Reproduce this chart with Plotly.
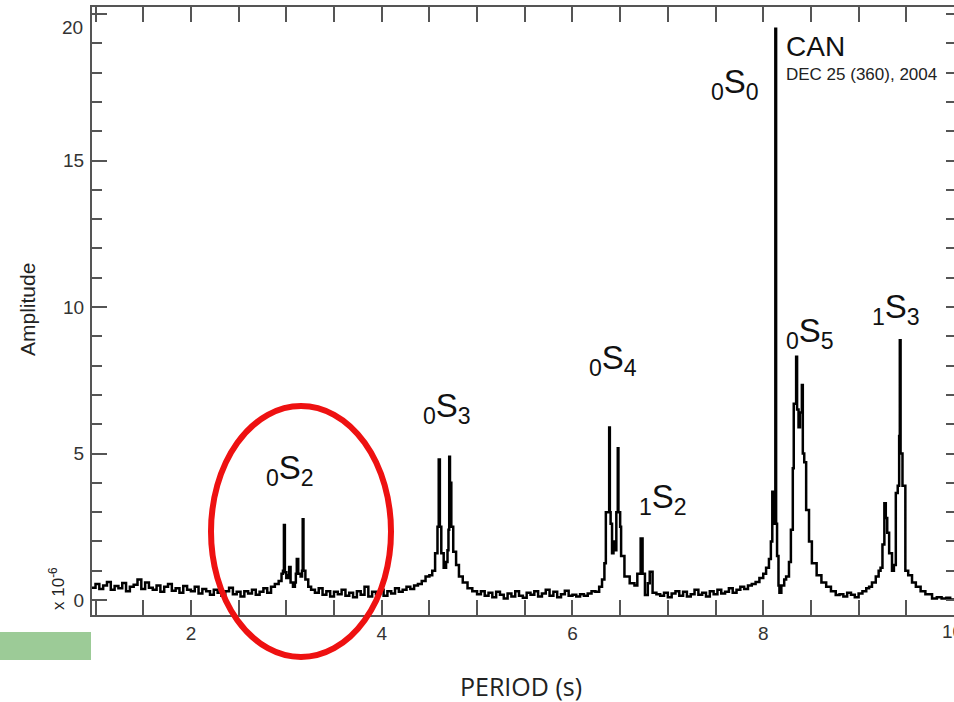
import plotly.graph_objects as go

# ---------------- data ----------------
period = [
    0.96, 1.00, 1.04, 1.08, 1.12, 1.16, 1.20, 1.24, 1.28, 1.32, 1.36, 1.40, 1.44, 1.48, 1.52, 1.56,
    1.60, 1.64, 1.68, 1.72, 1.76, 1.80, 1.84, 1.88, 1.92, 1.96, 2.00, 2.04, 2.08, 2.12, 2.16, 2.20,
    2.24, 2.28, 2.32, 2.36, 2.40, 2.44, 2.48, 2.52, 2.56, 2.60, 2.64, 2.68, 2.72, 2.76, 2.80, 2.84, 2.88,
    # 0S2
    2.92, 2.95, 2.965, 2.975, 2.985, 3.00, 3.02, 3.03, 3.045, 3.07, 3.09, 3.10, 3.11, 3.125, 3.15,
    3.165, 3.172, 3.18, 3.20, 3.23, 3.26,
    3.30, 3.34, 3.38, 3.42, 3.46, 3.50, 3.54, 3.58, 3.62, 3.66, 3.70, 3.74, 3.78, 3.82, 3.86, 3.90,
    3.94, 3.98, 4.02, 4.06, 4.10, 4.14, 4.18, 4.22, 4.26, 4.30, 4.34, 4.38, 4.42, 4.46,
    # 0S3
    4.50, 4.53, 4.56, 4.585, 4.598, 4.61, 4.625, 4.65, 4.675, 4.69, 4.700, 4.708, 4.716, 4.73, 4.75,
    4.78, 4.81, 4.85, 4.90, 4.95,
    5.00, 5.04, 5.08, 5.12, 5.16, 5.20, 5.24, 5.28, 5.32, 5.36, 5.40, 5.44, 5.48, 5.52, 5.56, 5.60,
    5.64, 5.68, 5.72, 5.76, 5.80, 5.84, 5.88, 5.92, 5.96, 6.00, 6.04, 6.08, 6.12, 6.16, 6.20, 6.24,
    # 0S4 and 1S2
    6.28, 6.31, 6.335, 6.35, 6.375, 6.385, 6.392, 6.40, 6.415, 6.43, 6.445, 6.46, 6.475, 6.482, 6.50,
    6.51, 6.545, 6.60, 6.65, 6.68, 6.715, 6.735, 6.76, 6.79, 6.81, 6.84, 6.88,
    6.92, 6.96, 7.00, 7.04, 7.08, 7.12, 7.16, 7.20, 7.24, 7.28, 7.32, 7.36, 7.40, 7.44, 7.48, 7.52,
    7.56, 7.60, 7.64, 7.68, 7.72, 7.76, 7.80, 7.84,
    # 0S0 and 0S5
    7.88, 7.92, 7.96, 8.00, 8.03, 8.06, 8.08, 8.095, 8.11, 8.12, 8.127, 8.135, 8.145, 8.16, 8.17,
    8.19, 8.22, 8.24, 8.27, 8.29, 8.31, 8.32, 8.345, 8.355, 8.37, 8.385, 8.405, 8.415, 8.43, 8.45,
    8.48, 8.51, 8.56, 8.61, 8.66, 8.71, 8.76,
    8.80, 8.84, 8.88, 8.92, 8.96, 9.00, 9.04, 9.08,
    # 1S3
    9.11, 9.14, 9.18, 9.21, 9.23, 9.25, 9.27, 9.285, 9.30, 9.32, 9.35, 9.37, 9.39, 9.41, 9.425,
    9.432, 9.44, 9.46, 9.48, 9.49, 9.52, 9.56, 9.60, 9.65, 9.70, 9.77, 9.82, 9.87, 9.92, 9.96, 10.0,
]

amplitude = [
    0.42, 0.55, 0.38, 0.50, 0.62, 0.35, 0.48, 0.40, 0.58, 0.30, 0.45, 0.52, 0.70, 0.38, 0.60, 0.42,
    0.35, 0.50, 0.28, 0.45, 0.55, 0.32, 0.40, 0.25, 0.48, 0.35, 0.30, 0.45, 0.22, 0.38, 0.30, 0.18,
    0.35, 0.25, 0.15, 0.30, 0.42, 0.20, 0.28, 0.12, 0.30, 0.22, 0.35, 0.18, 0.28, 0.40, 0.25, 0.45, 0.55,
    0.65, 0.90, 1.00, 2.56, 0.95, 0.75, 0.85, 1.13, 0.60, 0.45, 0.60, 0.90, 1.40, 0.90, 0.80,
    1.00, 2.76, 1.00, 0.70, 0.45, 0.35,
    0.25, 0.40, 0.18, 0.30, 0.12, 0.28, 0.20, 0.35, 0.15, 0.25, 0.10, 0.30, 0.18, 0.45, 0.12, 0.28,
    0.20, 0.35, 0.15, 0.30, 0.22, 0.40, 0.28, 0.35, 0.45, 0.38, 0.50, 0.55, 0.65, 0.80,
    0.85, 1.00, 1.60, 2.50, 4.80, 2.50, 1.60, 1.10, 1.30, 1.70, 2.40, 4.89, 4.00, 2.50, 1.65,
    1.20, 0.80, 0.60, 0.40, 0.30,
    0.20, 0.30, 0.15, 0.25, 0.10, 0.28, 0.18, 0.05, 0.22, 0.12, 0.30, 0.15, 0.08, 0.25, 0.18, 0.30,
    0.12, 0.22, 0.35, 0.15, 0.28, 0.10, 0.20, 0.32, 0.15, 0.18, 0.12, 0.20, 0.15, 0.22, 0.30, 0.28,
    0.45, 0.70, 1.26, 3.00, 3.00, 5.89, 3.00, 2.60, 1.60, 2.00, 1.70, 3.00, 5.18, 3.00, 2.50,
    1.50, 0.80, 0.57, 0.50, 0.90, 2.10, 0.90, 0.17, 0.57, 0.97, 0.25, 0.20,
    0.15, 0.25, 0.10, 0.22, 0.30, 0.15, 0.28, 0.12, 0.20, 0.35, 0.18, 0.25, 0.12, 0.30, 0.20, 0.35,
    0.22, 0.28, 0.40, 0.25, 0.35, 0.45, 0.38, 0.50,
    0.55, 0.62, 0.75, 0.90, 1.10, 1.40, 2.00, 3.70, 2.60, 3.00, 19.5, 2.60, 1.50, 0.50, 0.25,
    0.50, 0.70, 0.80, 1.30, 2.40, 4.50, 6.70, 8.30, 6.50, 5.90, 6.40, 7.34, 5.00, 4.70, 3.07,
    2.00, 1.26, 0.85, 0.60, 0.45, 0.30, 0.17,
    0.20, 0.12, 0.25, 0.18, 0.10, 0.22, 0.30, 0.40,
    0.45, 0.60, 0.80, 1.00, 1.10, 1.90, 3.30, 2.80, 2.30, 1.60, 1.00, 1.20, 3.65, 3.90, 5.60,
    8.87, 5.00, 3.90, 3.90, 1.00, 0.85, 0.60, 0.45, 0.30, 0.20, 0.05, 0.10, 0.05, 0.08, 0.02, 0.06,
]

mode_labels = ["<sub>0</sub>S<sub>2</sub>", "<sub>0</sub>S<sub>3</sub>", "<sub>0</sub>S<sub>4</sub>",
               "<sub>1</sub>S<sub>2</sub>", "<sub>0</sub>S<sub>0</sub>", "<sub>0</sub>S<sub>5</sub>",
               "<sub>1</sub>S<sub>3</sub>"]
mode_x = [3.04, 4.68, 6.43, 6.95, 7.70, 8.49, 9.39]
mode_y = [4.45, 6.55, 8.2, 3.45, 17.6, 9.1, 9.95]

y_tickvals = [0, 5, 10, 15, 20]
y_ticktext = ["0", "5", "10", "15", ""]   # "20" is drawn slightly lower, as in the original
x_tickvals = [2, 4, 6, 8]
x_ticktext = ["2", "4", "6", "8"]

# ---------------- layout geometry ----------------
W, H = 954, 702
L, R, T, B = 92, 0, 7, 87
PW, PH = W - L - R, H - T - B


def px(x):
    return (x - L) / PW


def py(y):
    return (H - B - y) / PH


AX = "#555555"
FONT = "Liberation Sans, Arial, sans-serif"
TXT = "#333333"

fig = go.Figure()
fig.add_trace(go.Scatter(x=period, y=amplitude, mode="lines", line=dict(color="black", width=2.5, shape="hv"),
                         hoverinfo="skip", showlegend=False))
fig.add_trace(go.Scatter(x=[period[0]], y=[amplitude[0]], yaxis="y2", mode="markers",
                         marker=dict(opacity=0), showlegend=False, hoverinfo="skip"))

fig.update_layout(
    width=W, height=H,
    margin=dict(l=L, r=R, t=T, b=B, pad=0),
    paper_bgcolor="white", plot_bgcolor="white",
    showlegend=False,
    font=dict(family=FONT, color=TXT, size=19),
    xaxis=dict(range=[0.963, 10.0], showgrid=False, zeroline=False, showline=True, linecolor=AX, linewidth=2,
               mirror="allticks", ticks="inside", ticklen=15, tickwidth=1.5, tickcolor=AX,
               tickmode="array", tickvals=x_tickvals, ticktext=x_ticktext,
               tickfont=dict(size=19, color=TXT, family=FONT),
               minor=dict(ticks="inside", dtick=0.5, tick0=0, ticklen=10, tickwidth=1.5, tickcolor=AX,
                          showgrid=False)),
    yaxis=dict(range=[-0.51, 20.24], showgrid=False, zeroline=False, showline=True, linecolor=AX, linewidth=2,
               ticks="inside", ticklen=15, tickwidth=1.5, tickcolor=AX,
               tickmode="array", tickvals=y_tickvals, ticktext=y_ticktext,
               tickfont=dict(size=19, color=TXT, family=FONT), ticklabelstandoff=2,
               minor=dict(ticks="inside", dtick=1, tick0=0, ticklen=10, tickwidth=1.5, tickcolor=AX,
                          showgrid=False)),
    yaxis2=dict(range=[-0.51, 20.24], overlaying="y", side="right", showgrid=False, zeroline=False,
                showline=False, ticks="inside", ticklen=8, tickwidth=1.5, tickcolor=AX, dtick=1, tick0=0,
                showticklabels=False),
)

annotations = []
for lab, x, y in zip(mode_labels, mode_x, mode_y):
    annotations.append(dict(x=x, y=y, xref="x", yref="y", text=lab, showarrow=False,
                            xanchor="center", yanchor="middle",
                            font=dict(family=FONT, size=33, color="#111111")))
annotations += [
    dict(x=8.22, y=18.9, xref="x", yref="y", text="CAN", showarrow=False, xanchor="left", yanchor="middle",
         font=dict(family=FONT, size=28, color="#111111")),
    dict(x=8.22, y=17.92, xref="x", yref="y", text="DEC 25 (360), 2004", showarrow=False, xanchor="left",
         yanchor="middle", font=dict(family=FONT, size=17, color="#222222")),
    dict(x=px(27), y=py(310), xref="paper", yref="paper", text="Amplitude", showarrow=False, textangle=-90,
         xanchor="center", yanchor="middle", font=dict(family=FONT, size=21, color="#222222")),
    dict(x=px(57), y=py(589), xref="paper", yref="paper", text="x 10<sup>-6</sup>", showarrow=False,
         textangle=-90, xanchor="center", yanchor="middle", font=dict(family=FONT, size=17, color="#222222")),
    dict(x=px(521), y=py(686), xref="paper", yref="paper", text="PERIOD (s)", showarrow=False,
         xanchor="center", yanchor="middle",
         font=dict(family="Open Sans, sans-serif", size=25, color="#222222")),
    # shifted / edge tick labels
    dict(x=px(85), y=py(27), xref="paper", yref="paper", text="20", showarrow=False,
         xanchor="right", yanchor="middle", font=dict(family=FONT, size=19, color=TXT)),
    dict(x=px(940), y=py(631), xref="paper", yref="paper", text="10", showarrow=False,
         xanchor="left", yanchor="middle", font=dict(family=FONT, size=19, color=TXT)),
]
fig.update_layout(annotations=annotations)

fig.update_layout(shapes=[
    dict(type="circle", xref="paper", yref="paper", x0=px(211), x1=px(391), y0=py(657), y1=py(406),
         line=dict(color="#ee1111", width=6), layer="above"),
    dict(type="rect", xref="paper", yref="paper", x0=px(0), x1=px(91), y0=py(660), y1=py(632),
         fillcolor="#9ccb97", line=dict(width=0), layer="above"),
])

fig.write_html("out.html")
